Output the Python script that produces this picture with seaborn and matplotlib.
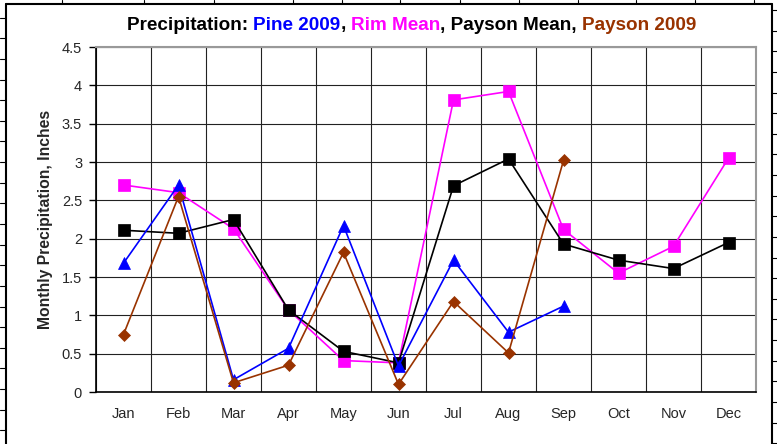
import numpy as np
import seaborn as sns
from matplotlib import pyplot as plt
from matplotlib.lines import Line2D

months = ['Jan', 'Feb', 'Mar', 'Apr', 'May', 'Jun', 'Jul', 'Aug', 'Sep', 'Oct', 'Nov', 'Dec']
rim_mean = [2.70, 2.60, 2.13, 1.07, 0.41, 0.38, 3.81, 3.92, 2.12, 1.55, 1.90, 3.05]
payson_mean = [2.11, 2.07, 2.25, 1.07, 0.53, 0.38, 2.69, 3.04, 1.93, 1.72, 1.61, 1.95]
pine_2009 = [1.68, 2.70, 0.16, 0.57, 2.17, 0.34, 1.72, 0.78, 1.12]
payson_2009 = [0.75, 2.55, 0.12, 0.35, 1.82, 0.10, 1.18, 0.51, 3.02]
y_ticks = [0, 0.5, 1, 1.5, 2, 2.5, 3, 3.5, 4, 4.5]

BLUE = '#0000FF'
MAGENTA = '#FF00FF'
BROWN = '#993300'

W, H = 777, 444


def fx(x):
    return x / W


def fy(y):
    return 1 - y / H


def main():
    sns.set_style('white')
    plt.rcParams['font.family'] = ['Liberation Sans', 'DejaVu Sans']

    fig = plt.figure(figsize=(W / 100, H / 100), dpi=100)
    ax = fig.add_axes([fx(96), fy(392), (756 - 96) / W, (392 - 47) / H])

    series = [
        (rim_mean, MAGENTA, 's', 8),
        (payson_mean, 'black', 's', 8),
        (pine_2009, BLUE, '^', 8.5),
        (payson_2009, BROWN, 'D', 5.8),
    ]
    for vals, col, mk, ms in series:
        sns.lineplot(x=np.arange(len(vals)), y=vals, color=col, marker=mk, markersize=ms,
                     markeredgecolor=col, markeredgewidth=0.5, linewidth=1.2, ax=ax, zorder=3)

    ax.set_xlim(-0.5, 11.5)
    ax.set_ylim(0, 4.5)
    ax.set_xticks(range(12))
    ax.set_xticklabels(months)
    ax.set_xticks(np.arange(-0.5, 12, 1), minor=True)
    ax.set_yticks(y_ticks)
    ax.set_yticklabels([f'{t:g}' for t in y_ticks])
    ax.tick_params(axis='x', which='major', length=0, pad=11, labelsize=10.5)
    ax.tick_params(axis='x', which='minor', direction='out', length=5, width=1, color='black')
    ax.tick_params(axis='y', direction='out', length=5, width=1, color='black', pad=5, labelsize=10.5, left=True)
    ax.grid(False)
    ax.grid(True, axis='y', which='major', color='#222222', linewidth=0.8)
    ax.grid(True, axis='x', which='minor', color='#222222', linewidth=0.8)
    ax.set_axisbelow(True)
    for side in ['left', 'bottom']:
        ax.spines[side].set_color('black')
        ax.spines[side].set_linewidth(1.2)
    for side in ['top', 'right']:
        ax.spines[side].set_color('#999999')
        ax.spines[side].set_linewidth(1.5)
    ax.set_xlabel('')
    ax.set_ylabel('Monthly Precipitation, Inches', fontsize=11.3, fontweight='bold', labelpad=6)

    # title in several colours, pieces placed one after another
    pieces = [('Precipitation: ', 'black'), ('Pine 2009', BLUE), (', ', 'black'),
              ('Rim Mean', MAGENTA), (', Payson Mean, ', 'black'), ('Payson 2009', BROWN)]
    renderer = fig.canvas.get_renderer()
    x = fx(127)
    for txt, col in pieces:
        t = fig.text(x, fy(25), txt, color=col, fontsize=13.6, fontweight='bold', va='center', ha='left')
        bb = t.get_window_extent(renderer=renderer)
        x += bb.width / W

    # outer sheet frame with its row / column marks
    lk = dict(color='black', linewidth=1.5, transform=fig.transFigure)
    fig.add_artist(Line2D([fx(5.5), fx(5.5)], [fy(4.5), 0], **lk))
    fig.add_artist(Line2D([fx(5.5), fx(772)], [fy(4.5), fy(4.5)], **lk))
    fig.add_artist(Line2D([fx(772), fx(772)], [fy(4.5), 0], **lk))
    tk = dict(color='black', linewidth=0.8, transform=fig.transFigure)
    for y in np.arange(17.7, H, 20.63):
        fig.add_artist(Line2D([0, fx(5)], [fy(y), fy(y)], **tk))
    for y in np.arange(10, H, 20.63):
        fig.add_artist(Line2D([fx(772), 1], [fy(y), fy(y)], **tk))
    for x in [62, 144, 214, 293, 342, 400, 460, 519, 578, 636, 695, 754]:
        fig.add_artist(Line2D([fx(x), fx(x)], [1, fy(4.5)], **tk))

    fig.savefig('out.png', dpi=100)


if __name__ == '__main__':
    main()
